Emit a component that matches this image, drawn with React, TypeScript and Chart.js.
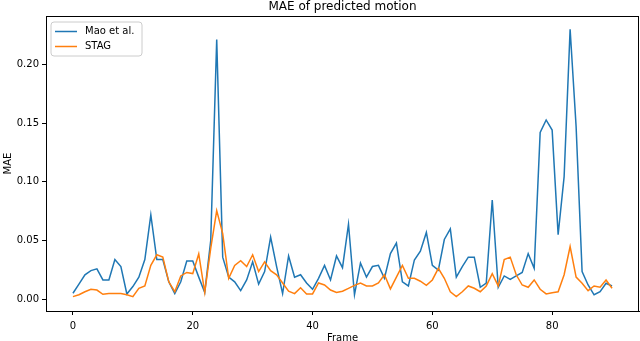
import React, { useEffect, useRef } from "react";
import { Chart, registerables } from "chart.js";

Chart.register(...registerables);

const frames = [
  0, 1, 2, 3, 4, 5, 6, 7, 8, 9, 10, 11, 12, 13, 14, 15, 16, 17, 18, 19, 20,
  21, 22, 23, 24, 25, 26, 27, 28, 29, 30, 31, 32, 33, 34, 35, 36, 37, 38, 39, 40,
  41, 42, 43, 44, 45, 46, 47, 48, 49, 50, 51, 52, 53, 54, 55, 56, 57, 58, 59, 60,
  61, 62, 63, 64, 65, 66, 67, 68, 69, 70, 71, 72, 73, 74, 75, 76, 77, 78, 79, 80,
  81, 82, 83, 84, 85, 86, 87, 88, 89, 90,
];

const maoValues = [
  0.0053, 0.013, 0.021, 0.0245, 0.026, 0.0166, 0.0166, 0.034, 0.028, 0.0047,
  0.011, 0.019, 0.034, 0.072, 0.034, 0.034, 0.015, 0.005, 0.015, 0.0327,
  0.0327, 0.019, 0.006, 0.05, 0.221, 0.036, 0.019, 0.015, 0.0075, 0.0166,
  0.032, 0.013, 0.0237, 0.053, 0.028, 0.005, 0.037, 0.019, 0.021, 0.014,
  0.0087, 0.018, 0.029, 0.0166, 0.037, 0.027, 0.064, 0.004, 0.031, 0.019,
  0.028, 0.029, 0.018, 0.039, 0.048, 0.015, 0.0115, 0.0336, 0.041, 0.057,
  0.029, 0.025, 0.051, 0.06, 0.019, 0.028, 0.036, 0.036, 0.0104, 0.014,
  0.0846, 0.0104, 0.02, 0.017, 0.02, 0.023, 0.039, 0.0265, 0.142, 0.1526,
  0.144, 0.055, 0.1044, 0.2298, 0.147, 0.0237, 0.0123, 0.004, 0.0066, 0.0138,
  0.0115,
];

const stagValues = [
  0.0024, 0.004, 0.0066, 0.0087, 0.008, 0.0044, 0.005, 0.005, 0.005, 0.004,
  0.0024, 0.0095, 0.0115, 0.029, 0.038, 0.036, 0.015, 0.0066, 0.02, 0.023,
  0.022, 0.0387, 0.006, 0.0435, 0.0755, 0.056, 0.018, 0.029, 0.033, 0.028,
  0.038, 0.0237, 0.032, 0.0245, 0.021, 0.014, 0.007, 0.005, 0.01, 0.0047,
  0.0047, 0.014, 0.0123, 0.008, 0.006, 0.007, 0.0095, 0.012, 0.014, 0.0115,
  0.0115, 0.014, 0.021, 0.009, 0.019, 0.029, 0.018, 0.018, 0.0155, 0.012,
  0.0166, 0.0265, 0.018, 0.0066, 0.0024, 0.0066, 0.0115, 0.0095, 0.0066, 0.0115,
  0.022, 0.0115, 0.034, 0.036, 0.021, 0.0123, 0.0104, 0.0166, 0.0087, 0.0047,
  0.0058, 0.0066, 0.021, 0.045, 0.019, 0.0138, 0.0075, 0.0115, 0.0104, 0.0166,
  0.0095,
];

const seriesLabels = ["Mao et al.", "STAG"];
const seriesColors = ["#1f77b4", "#ff7f0e"];
const xTicks = [0, 20, 40, 60, 80];
const yTicks = [0, 0.05, 0.1, 0.15, 0.2];
const chartTitle = "MAE of predicted motion";
const xTitle = "Frame";
const yTitle = "MAE";

const FONT = "'DejaVu Sans', sans-serif";

const framePlugin = {
  id: "frameAndExtras",
  afterDatasetsDraw(chart: any) {
    const { ctx, chartArea } = chart;
    const { left, top, right, bottom } = chartArea;
    ctx.save();
    ctx.strokeStyle = "#000";
    ctx.lineWidth = 1;
    ctx.strokeRect(left + 0.5, top + 0.5, right - left - 1, bottom - top);

    const bx = left + 5;
    const by = top + 6;
    const bw = 91;
    const bh = 34;
    const r = 3;
    ctx.beginPath();
    ctx.moveTo(bx + r, by);
    ctx.lineTo(bx + bw - r, by);
    ctx.quadraticCurveTo(bx + bw, by, bx + bw, by + r);
    ctx.lineTo(bx + bw, by + bh - r);
    ctx.quadraticCurveTo(bx + bw, by + bh, bx + bw - r, by + bh);
    ctx.lineTo(bx + r, by + bh);
    ctx.quadraticCurveTo(bx, by + bh, bx, by + bh - r);
    ctx.lineTo(bx, by + r);
    ctx.quadraticCurveTo(bx, by, bx + r, by);
    ctx.closePath();
    ctx.fillStyle = "rgba(255,255,255,0.8)";
    ctx.fill();
    ctx.strokeStyle = "#cccccc";
    ctx.lineWidth = 1;
    ctx.stroke();

    chart.data.datasets.forEach((ds: any, i: number) => {
      const ly = by + 9.5 + i * 15;
      ctx.strokeStyle = ds.borderColor;
      ctx.lineWidth = 1.5;
      ctx.beginPath();
      ctx.moveTo(bx + 4, ly);
      ctx.lineTo(bx + 26, ly);
      ctx.stroke();
      ctx.fillStyle = "#000";
      ctx.font = `10px ${FONT}`;
      ctx.textAlign = "left";
      ctx.textBaseline = "middle";
      ctx.fillText(ds.label, bx + 34, ly);
    });

    ctx.fillStyle = "#000";
    ctx.font = `12px ${FONT}`;
    ctx.textAlign = "center";
    ctx.textBaseline = "alphabetic";
    ctx.fillText(chartTitle, (left + right) / 2, 10);
    ctx.restore();
  },
};

export default function App() {
  const canvasRef = useRef<HTMLCanvasElement | null>(null);

  useEffect(() => {
    const canvas = canvasRef.current;
    if (!canvas) return;
    Chart.defaults.font.family = FONT;
    Chart.defaults.color = "#000";

    const chart = new Chart(canvas, {
      type: "line",
      data: {
        datasets: [
          {
            label: seriesLabels[0],
            data: frames.map((f, i) => ({ x: f, y: maoValues[i] })),
            borderColor: seriesColors[0],
            backgroundColor: seriesColors[0],
            borderWidth: 1.5,
            pointRadius: 0,
            tension: 0,
            order: 1,
          },
          {
            label: seriesLabels[1],
            data: frames.map((f, i) => ({ x: f, y: stagValues[i] })),
            borderColor: seriesColors[1],
            backgroundColor: seriesColors[1],
            borderWidth: 1.5,
            pointRadius: 0,
            tension: 0,
            order: 0,
          },
        ],
      },
      options: {
        responsive: false,
        animation: false,
        devicePixelRatio: 1,
        layout: { padding: { left: 0, right: 1, top: 16, bottom: 0 } },
        plugins: {
          legend: { display: false },
          title: { display: false },
          tooltip: { enabled: false },
        },
        scales: {
          x: {
            type: "linear",
            min: -4.5,
            max: 94.5,
            afterBuildTicks: (scale: any) => {
              scale.ticks = xTicks.map((v) => ({ value: v }));
            },
            afterFit: (scale: any) => {
              scale.height = 30;
            },
            ticks: {
              font: { size: 10 },
              color: "#000",
              padding: 5,
              maxRotation: 0,
              callback: (v: any) => String(v),
            },
            grid: {
              display: true,
              drawOnChartArea: false,
              drawTicks: true,
              tickLength: 4,
              color: "#000",
            },
            border: { display: true, color: "#000", width: 1 },
            title: {
              display: true,
              text: xTitle,
              font: { size: 10 },
              color: "#000",
              padding: { top: 0, bottom: -3 },
            },
          },
          y: {
            type: "linear",
            min: -0.0098,
            max: 0.241,
            afterBuildTicks: (scale: any) => {
              scale.ticks = yTicks.map((v) => ({ value: v }));
            },
            afterFit: (scale: any) => {
              scale.width = 46;
            },
            ticks: {
              font: { size: 10 },
              color: "#000",
              padding: 3,
              callback: (v: any) => Number(v).toFixed(2),
            },
            grid: {
              display: true,
              drawOnChartArea: false,
              drawTicks: true,
              tickLength: 4,
              color: "#000",
            },
            border: { display: true, color: "#000", width: 1 },
            title: {
              display: true,
              text: yTitle,
              font: { size: 10 },
              color: "#000",
              padding: { top: 2, bottom: 0 },
            },
          },
        },
      },
      plugins: [framePlugin],
    } as any);

    return () => chart.destroy();
  }, []);

  return (
    <div style={{ position: "fixed", left: 0, top: 0, width: 640, height: 341, background: "#fff" }}>
      <canvas ref={canvasRef} width={640} height={341} style={{ display: "block" }} />
    </div>
  );
}
